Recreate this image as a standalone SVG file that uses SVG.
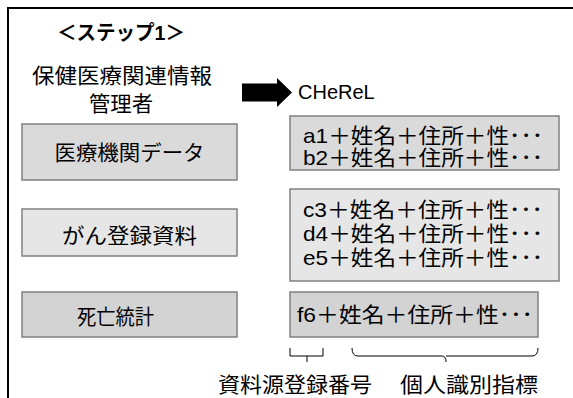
<svg xmlns="http://www.w3.org/2000/svg" width="573" height="398" viewBox="0 0 573 398">
<style>
text{font-family:"Liberation Sans","Noto Sans CJK JP",sans-serif;fill:#000}
.t{font-size:21px}
.box{stroke:#808080;stroke-width:1.5}
.g1{fill:#dadada}.g2{fill:#e6e6e6}.g3{fill:#d3d3d3}
.br{fill:none;stroke:#000;stroke-width:1}
</style>
<rect width="573" height="398" fill="#fff"/>
<path d="M8,398 V8 H573" fill="none" stroke="#000" stroke-width="2"/>
<g id="title">
<text x="57" y="40" font-size="20" font-weight="bold" textLength="128" lengthAdjust="spacingAndGlyphs">＜ステップ1＞</text>
</g>
<g id="manager">
<text class="t" x="122" y="83" text-anchor="middle" textLength="180" lengthAdjust="spacingAndGlyphs">保健医療関連情報</text>
<text class="t" x="121" y="111" text-anchor="middle" textLength="64" lengthAdjust="spacingAndGlyphs">管理者</text>
</g>
<g id="connectors">
<polygon points="242,83.5 277,83.5 277,78 292,92.5 277,107 277,101.5 242,101.5" fill="#000"/>
<path class="br" d="M290,348 V356 H307 V362 M307,356 H323 V348"/>
<path class="br" d="M352,348 Q352,356 358,356 H442 Q446,356 446,362 M446,356 Q446,356 450,356 H532 Q538,356 538,348"/>
</g>
<g id="cherel">
<text x="298" y="99" font-size="20">CHeReL</text>
</g>
<g id="src1">
<rect class="box g1" x="22" y="124" width="215" height="56"/>
<text class="t" x="129.5" y="160" text-anchor="middle" textLength="150" lengthAdjust="spacingAndGlyphs">医療機関データ</text>
</g>
<g id="src2">
<rect class="box g2" x="22" y="209" width="215" height="47"/>
<text class="t" x="129.5" y="243" text-anchor="middle" textLength="135" lengthAdjust="spacingAndGlyphs">がん登録資料</text>
</g>
<g id="src3">
<rect class="box g3" x="22" y="292" width="215" height="45"/>
<text class="t" x="115.5" y="324" text-anchor="middle" textLength="77" lengthAdjust="spacingAndGlyphs">死亡統計</text>
</g>
<g id="rec1">
<rect class="box g1" x="290" y="116" width="269" height="54"/>
<text class="t" x="303" y="143" textLength="240" lengthAdjust="spacingAndGlyphs">a1＋姓名＋住所＋性･･･</text>
<text class="t" x="303" y="165" textLength="240" lengthAdjust="spacingAndGlyphs">b2＋姓名＋住所＋性･･･</text>
</g>
<g id="rec2">
<rect class="box g2" x="290" y="189" width="269" height="92"/>
<text class="t" x="303" y="217" textLength="240" lengthAdjust="spacingAndGlyphs">c3＋姓名＋住所＋性･･･</text>
<text class="t" x="303" y="241" textLength="240" lengthAdjust="spacingAndGlyphs">d4＋姓名＋住所＋性･･･</text>
<text class="t" x="303" y="265" textLength="240" lengthAdjust="spacingAndGlyphs">e5＋姓名＋住所＋性･･･</text>
</g>
<g id="rec3">
<rect class="box g3" x="290" y="292" width="248" height="45"/>
<text class="t" x="297" y="322" textLength="236" lengthAdjust="spacingAndGlyphs">f6＋姓名＋住所＋性･･･</text>
</g>
<g id="labels">
<text class="t" x="218" y="392" textLength="154" lengthAdjust="spacingAndGlyphs">資料源登録番号</text>
<text class="t" x="400" y="392" textLength="138" lengthAdjust="spacingAndGlyphs">個人識別指標</text>
</g>
</svg>
